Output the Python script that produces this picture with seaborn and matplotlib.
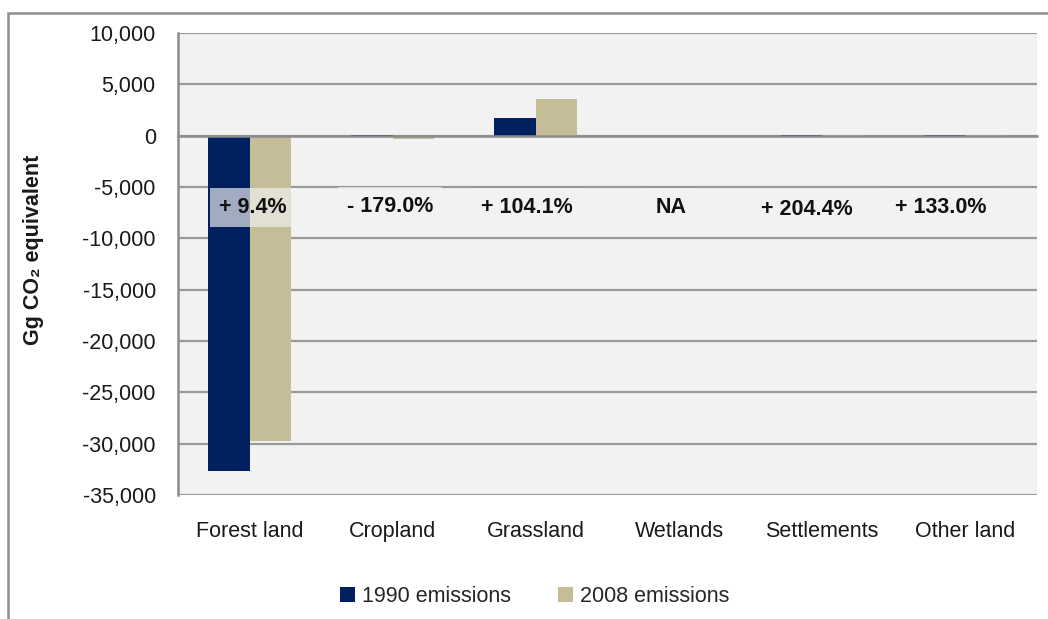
import matplotlib
matplotlib.use("Agg")
import matplotlib.pyplot as plt
import matplotlib.ticker as mticker
from matplotlib.patches import Rectangle
import pandas as pd
import seaborn as sns

# data (Gg CO2 equivalent)
categories = ["Forest land", "Cropland", "Grassland", "Wetlands", "Settlements", "Other land"]
emissions_1990 = [-32700, 60, 1750, 0, 20, 30]
emissions_2008 = [-29750, -300, 3570, 0, 60, 70]
change_labels = ["+ 9.4%", "- 179.0%", "+ 104.1%", "NA", "+ 204.4%", "+ 133.0%"]
series_names = ["1990 emissions", "2008 emissions"]
y_ticks = list(range(-35000, 10001, 5000))

# label placement (category offsets / y position)
label_dx = [0.02, -0.02, -0.065, -0.055, -0.11, -0.17]
label_y = [-7000, -6900, -7000, -7000, -7200, -7000]

navy = "#002060"
khaki = "#C4BD97"
grey = "#8C8C8C"
panel = "#F2F2F2"

sns.set_style("white")
plt.rcParams["font.family"] = ["Liberation Sans", "DejaVu Sans"]
plt.rcParams["font.size"] = 15.5

df = pd.DataFrame({
    "category": categories * 2,
    "series": [series_names[0]] * len(categories) + [series_names[1]] * len(categories),
    "value": emissions_1990 + emissions_2008,
})

fig = plt.figure(figsize=(10.48, 6.19), dpi=100)
ax = fig.add_axes([178 / 1048, 1 - 495 / 619, (1037 - 178) / 1048, (495 - 33) / 619])
ax.set_facecolor(panel)

sns.barplot(data=df, x="category", y="value", hue="series", palette=[navy, khaki],
            width=0.58, saturation=1, linewidth=0, ax=ax, zorder=3)

ax.set_ylim(-35000, 10000)
ax.set_xlim(-0.5, len(categories) - 0.5)
ax.set_yticks(y_ticks)
ax.yaxis.set_major_formatter(mticker.FuncFormatter(lambda v, p: f"{int(v):,}"))
ax.grid(axis="y", color="#999999", linewidth=1.6, zorder=0)
ax.set_axisbelow(True)

# category axis crosses at zero, ticks between the groups
ax.spines["bottom"].set_position(("data", 0))
ax.spines["bottom"].set_color(grey)
ax.spines["bottom"].set_linewidth(1.8)
ax.spines["bottom"].set_zorder(4)
ax.set_xticks([i - 0.5 for i in range(len(categories) + 1)])
ax.set_xticklabels([""] * (len(categories) + 1))
ax.tick_params(axis="x", direction="out", length=6, width=1.5, color=grey)
ax.spines["left"].set_color(grey)
ax.spines["left"].set_linewidth(1.8)
ax.tick_params(axis="y", direction="out", length=6, width=1.5, color=grey,
               labelcolor="#1a1a1a", pad=10)
ax.spines["top"].set_visible(False)
ax.spines["right"].set_visible(False)
ax.set_xlabel("")

sec = ax.secondary_xaxis("bottom")
sec.set_xticks(range(len(categories)))
sec.set_xticklabels(categories, color="#1a1a1a")
sec.tick_params(length=0, pad=19)
sec.spines["bottom"].set_visible(False)

ax.set_ylabel("Gg CO₂ equivalent", fontweight="bold", color="#1a1a1a")
ax.yaxis.set_label_coords(-0.156, 0.53)

for i, txt in enumerate(change_labels):
    ax.text(i + label_dx[i], label_y[i], txt, ha="center", va="center", fontweight="bold",
            color="#111111", zorder=5,
            bbox=dict(boxstyle="square,pad=0.4", facecolor=panel, edgecolor="none", alpha=0.67))

ax.legend(loc="center", bbox_to_anchor=(0.51, 0.036), bbox_transform=fig.transFigure,
          ncol=2, frameon=False, handlelength=0.7, handleheight=0.7,
          columnspacing=2.2, handletextpad=0.3)

fig.add_artist(Rectangle((8 / 1048, -0.1), 1.2, 1.1 - 13 / 619, transform=fig.transFigure,
                         facecolor="none", edgecolor="#8f8f8f", linewidth=1.8))

fig.savefig("out.png", dpi=100)
